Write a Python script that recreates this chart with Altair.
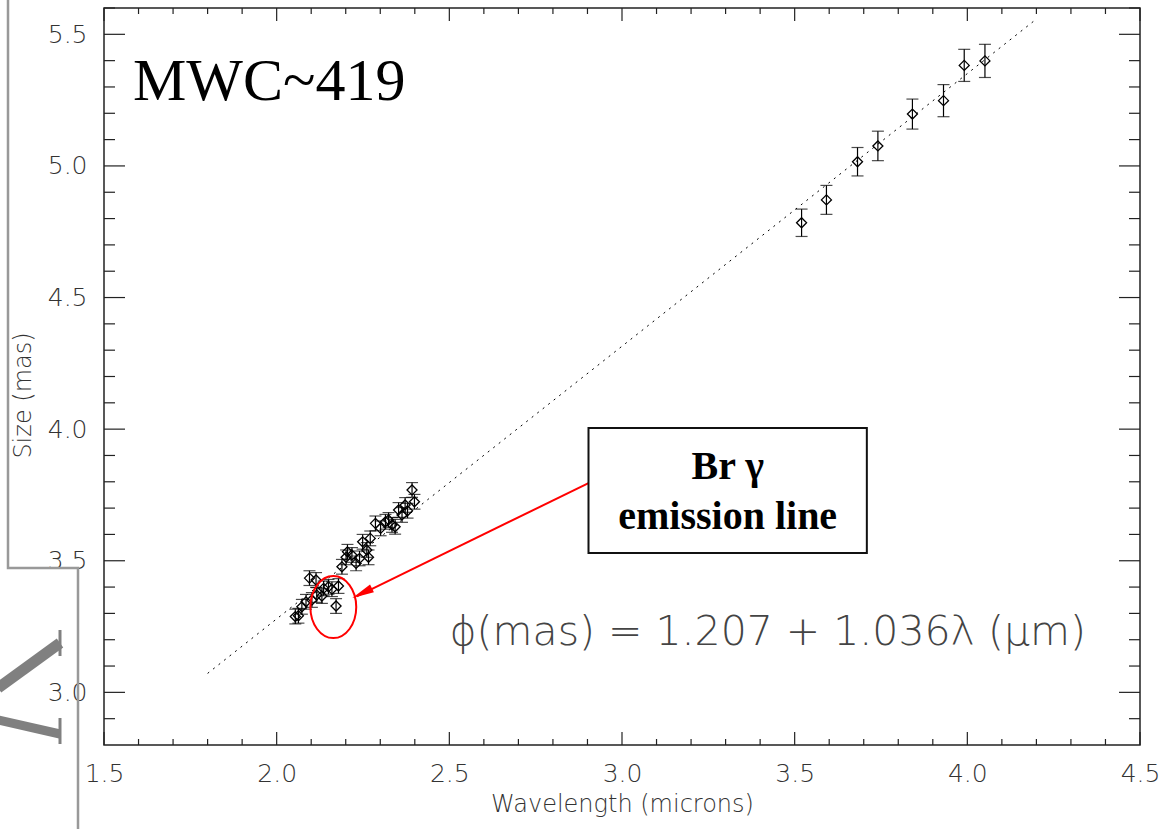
import altair as alt
import pandas as pd

# ---- data ----
lam_k = [2.054, 2.063, 2.073, 2.085, 2.095, 2.102, 2.114, 2.116, 2.131, 2.136,
         2.150, 2.160, 2.172, 2.179, 2.189, 2.201, 2.205, 2.218, 2.230, 2.240,
         2.249, 2.261, 2.266, 2.271, 2.286, 2.301, 2.315, 2.324, 2.334, 2.343,
         2.353, 2.363, 2.372, 2.379, 2.392, 2.399]
size_k = [3.288, 3.291, 3.325, 3.344, 3.434, 3.351, 3.427, 3.370, 3.366, 3.395,
          3.401, 3.392, 3.328, 3.404, 3.477, 3.513, 3.534, 3.522, 3.490, 3.509,
          3.572, 3.541, 3.513, 3.585, 3.642, 3.623, 3.648, 3.655, 3.636, 3.629,
          3.693, 3.674, 3.712, 3.690, 3.769, 3.724]
err_k = [0.028] * len(lam_k)

lam_l = [3.520, 3.592, 3.682, 3.741, 3.841, 3.931, 3.991, 4.051]
size_l = [4.784, 4.871, 5.016, 5.076, 5.197, 5.248, 5.382, 5.399]
err_l = [0.052, 0.055, 0.054, 0.056, 0.057, 0.061, 0.061, 0.063]

fit_x = [1.80, 4.20]
fit_y = [3.072, 5.558]

x_major = [1.5, 2.0, 2.5, 3.0, 3.5, 4.0, 4.5]
x_minor = [1.6, 1.7, 1.8, 1.9, 2.1, 2.2, 2.3, 2.4, 2.6, 2.7, 2.8, 2.9,
           3.1, 3.2, 3.3, 3.4, 3.6, 3.7, 3.8, 3.9, 4.1, 4.2, 4.3, 4.4]
y_major = [3.0, 3.5, 4.0, 4.5, 5.0, 5.5]
y_minor = [2.9, 3.1, 3.2, 3.3, 3.4, 3.6, 3.7, 3.8, 3.9, 4.1, 4.2, 4.3, 4.4,
           4.6, 4.7, 4.8, 4.9, 5.1, 5.2, 5.3, 5.4, 5.6]

# annotations (data coordinates)
title_text = ["MWC~419"]
formula_text = ["\u03d5(mas)  =  1.207  +  1.036\u03bb  (\u03bcm)"]
formula_pos = [3.422, 3.226]
box_x = [2.903, 3.709]
box_y = [3.529, 4.004]
box_lines = ["Br \u03b3", "emission line"]
box_line_y = [3.856, 3.666]
arrow_x = [2.903, 2.232]
arrow_y = [3.795, 3.365]
arrow_head = [2.2475, 3.377]
ellipse_c = [2.164, 3.324]

W, H = 1036, 737
xs = alt.Scale(domain=[1.5, 4.5], nice=False, zero=False)
ys = alt.Scale(domain=[2.8, 5.6], nice=False, zero=False)
LBL_FONT = "DejaVu Sans"
INK = "#000000"

x_axis = alt.Axis(values=x_major, format=".1f", ticks=False, domain=False, grid=False,
                  labelFlush=False, labelPadding=16, titlePadding=6)
y_axis = alt.Axis(values=y_major, format=".1f", ticks=False, domain=False, grid=False,
                  labelFlush=False, labelPadding=17, titlePadding=12, titleAngle=270,
                  titleAlign="center", titleY=387)
XT = "Wavelength (microns)"
YT = "Size (mas)"


def X(f):
    return alt.X(f, type="quantitative", scale=xs, axis=x_axis, title=XT)


def Y(f):
    return alt.Y(f, type="quantitative", scale=ys, axis=y_axis, title=YT)


df = pd.DataFrame({"lam": lam_k + lam_l, "size": size_k + size_l, "err": err_k + err_l})
base = alt.Chart(df).transform_calculate(
    lo="datum.size - datum.err", hi="datum.size + datum.err")

fit = alt.Chart(pd.DataFrame({"x": fit_x, "y": fit_y})).mark_line(
    color="#000", strokeWidth=1, strokeDash=[2, 5]).encode(x=X("x"), y=Y("y"))

bars = base.mark_rule(color=INK, strokeWidth=1.2).encode(x=X("lam"), y=Y("lo"), y2="hi:Q")
cap_lo = base.mark_tick(color=INK, orient="horizontal", size=12, thickness=1.2).encode(x=X("lam"), y=Y("lo"))
cap_hi = base.mark_tick(color=INK, orient="horizontal", size=12, thickness=1.2).encode(x=X("lam"), y=Y("hi"))

pts = base.mark_point(shape="diamond", filled=False, size=100, color=INK, strokeWidth=1.3, opacity=1).encode(
    x=X("lam"), y=Y("size"))


# inward ticks on all four sides
def xticks(vals, y0, y1):
    return alt.Chart(pd.DataFrame({"v": vals})).mark_rule(color="#222", strokeWidth=1.2).encode(
        x=X("v"), y=alt.value(y0), y2=alt.value(y1))


def yticks(vals, x0, x1):
    return alt.Chart(pd.DataFrame({"v": vals})).mark_rule(color="#222", strokeWidth=1.2).encode(
        y=Y("v"), x=alt.value(x0), x2=alt.value(x1))


ticks = [
    xticks(x_major, H, H - 13), xticks(x_minor, H, H - 6),
    xticks(x_major, 0, 13), xticks(x_minor, 0, 6),
    yticks(y_major, 0, 21), yticks(y_minor, 0, 11),
    yticks(y_major, W, W - 21), yticks(y_minor, W, W - 11),
]

title = alt.Chart(pd.DataFrame({"t": title_text})).mark_text(
    font="Liberation Serif", fontSize=60, color="#000", align="left", baseline="alphabetic").encode(
    text="t:N", x=alt.value(29), y=alt.value(92))

formula = alt.Chart(pd.DataFrame({"t": formula_text, "x": [formula_pos[0]], "y": [formula_pos[1]]})).mark_text(
    font=LBL_FONT, fontSize=41, fontWeight=200, color="#444", align="center", baseline="middle").encode(
    text="t:N", x=X("x"), y=Y("y"))

box = alt.Chart(pd.DataFrame({"x": [box_x[0]], "x2": [box_x[1]], "y": [box_y[0]], "y2": [box_y[1]]})).mark_rect(
    fill="white", stroke="#111", strokeWidth=2).encode(x=X("x"), x2="x2:Q", y=Y("y"), y2="y2:Q")

box_text = alt.Chart(pd.DataFrame({"t": box_lines, "y": box_line_y,
                                   "x": [(box_x[0] + box_x[1]) / 2] * 2})).mark_text(
    font="Liberation Serif", fontSize=40, fontWeight="bold", color="#000",
    align="center", baseline="middle").encode(text="t:N", x=X("x"), y=Y("y"))

arrow = alt.Chart(pd.DataFrame({"x": arrow_x, "y": arrow_y})).mark_line(
    color="#ff0000", strokeWidth=2).encode(x=X("x"), y=Y("y"))
head = alt.Chart(pd.DataFrame({"x": [arrow_head[0]], "y": [arrow_head[1]]})).mark_point(
    shape="M0,-1L0.4,1L-0.4,1Z", filled=True, color="#ff0000", size=480, angle=244, opacity=1).encode(
    x=X("x"), y=Y("y"))
ellipse = alt.Chart(pd.DataFrame({"x": [ellipse_c[0]], "y": [ellipse_c[1]]})).mark_point(
    shape="M-0.74,0A0.74,1 0 1,0 0.74,0A0.74,1 0 1,0 -0.74,0Z", filled=False,
    color="#ff0000", strokeWidth=2, size=3844, opacity=1).encode(x=X("x"), y=Y("y"))

# grey slide decoration on the left (outside the plot area, pixel offsets from the plot corner)
deco = alt.Chart(pd.DataFrame({"px": [-96, -96, -26, -26], "py": [-10, 560, 560, 825], "o": [0, 1, 2, 3]})).mark_line(
    color="#999", strokeWidth=2.5).encode(
    x=alt.X("px:Q", scale=None), y=alt.Y("py:Q", scale=None), order="o:Q")
deco_arms = alt.Chart(pd.DataFrame({
    "px": [-44, -106, -106, -44],
    "py": [635, 680, 712, 726],
    "g": ["a", "a", "b", "b"],
    "w": [11, 11, 9, 9],
})).mark_line(color="#808080", strokeCap="butt").encode(
    x=alt.X("px:Q", scale=None), y=alt.Y("py:Q", scale=None), detail="g:N",
    strokeWidth=alt.StrokeWidth("w:Q", scale=None))
deco_serif = alt.Chart(pd.DataFrame({"px": [-44, -44], "py": [622, 710], "py2": [648, 736]})).mark_rule(
    color="#808080", strokeWidth=3).encode(
    x=alt.X("px:Q", scale=None), y=alt.Y("py:Q", scale=None), y2="py2:Q")

chart = alt.layer(
    deco, deco_arms, deco_serif, fit, bars, cap_lo, cap_hi, pts, *ticks, title, formula,
    arrow, head, ellipse, box, box_text
).properties(
    width=W, height=H,
    autosize=alt.AutoSizeParams(type="none"),
    padding={"left": 104, "top": 8, "right": 23, "bottom": 84},
).configure(
    background="white"
).configure_view(
    stroke="#222", strokeWidth=1.5
).configure_axis(
    labelFont=LBL_FONT, labelFontSize=25, labelFontWeight=200, labelColor="#333",
    titleFont=LBL_FONT, titleFontSize=24, titleFontWeight=200, titleColor="#333",
)

chart.save("out.html", embed_options={"renderer": "svg", "actions": False})
